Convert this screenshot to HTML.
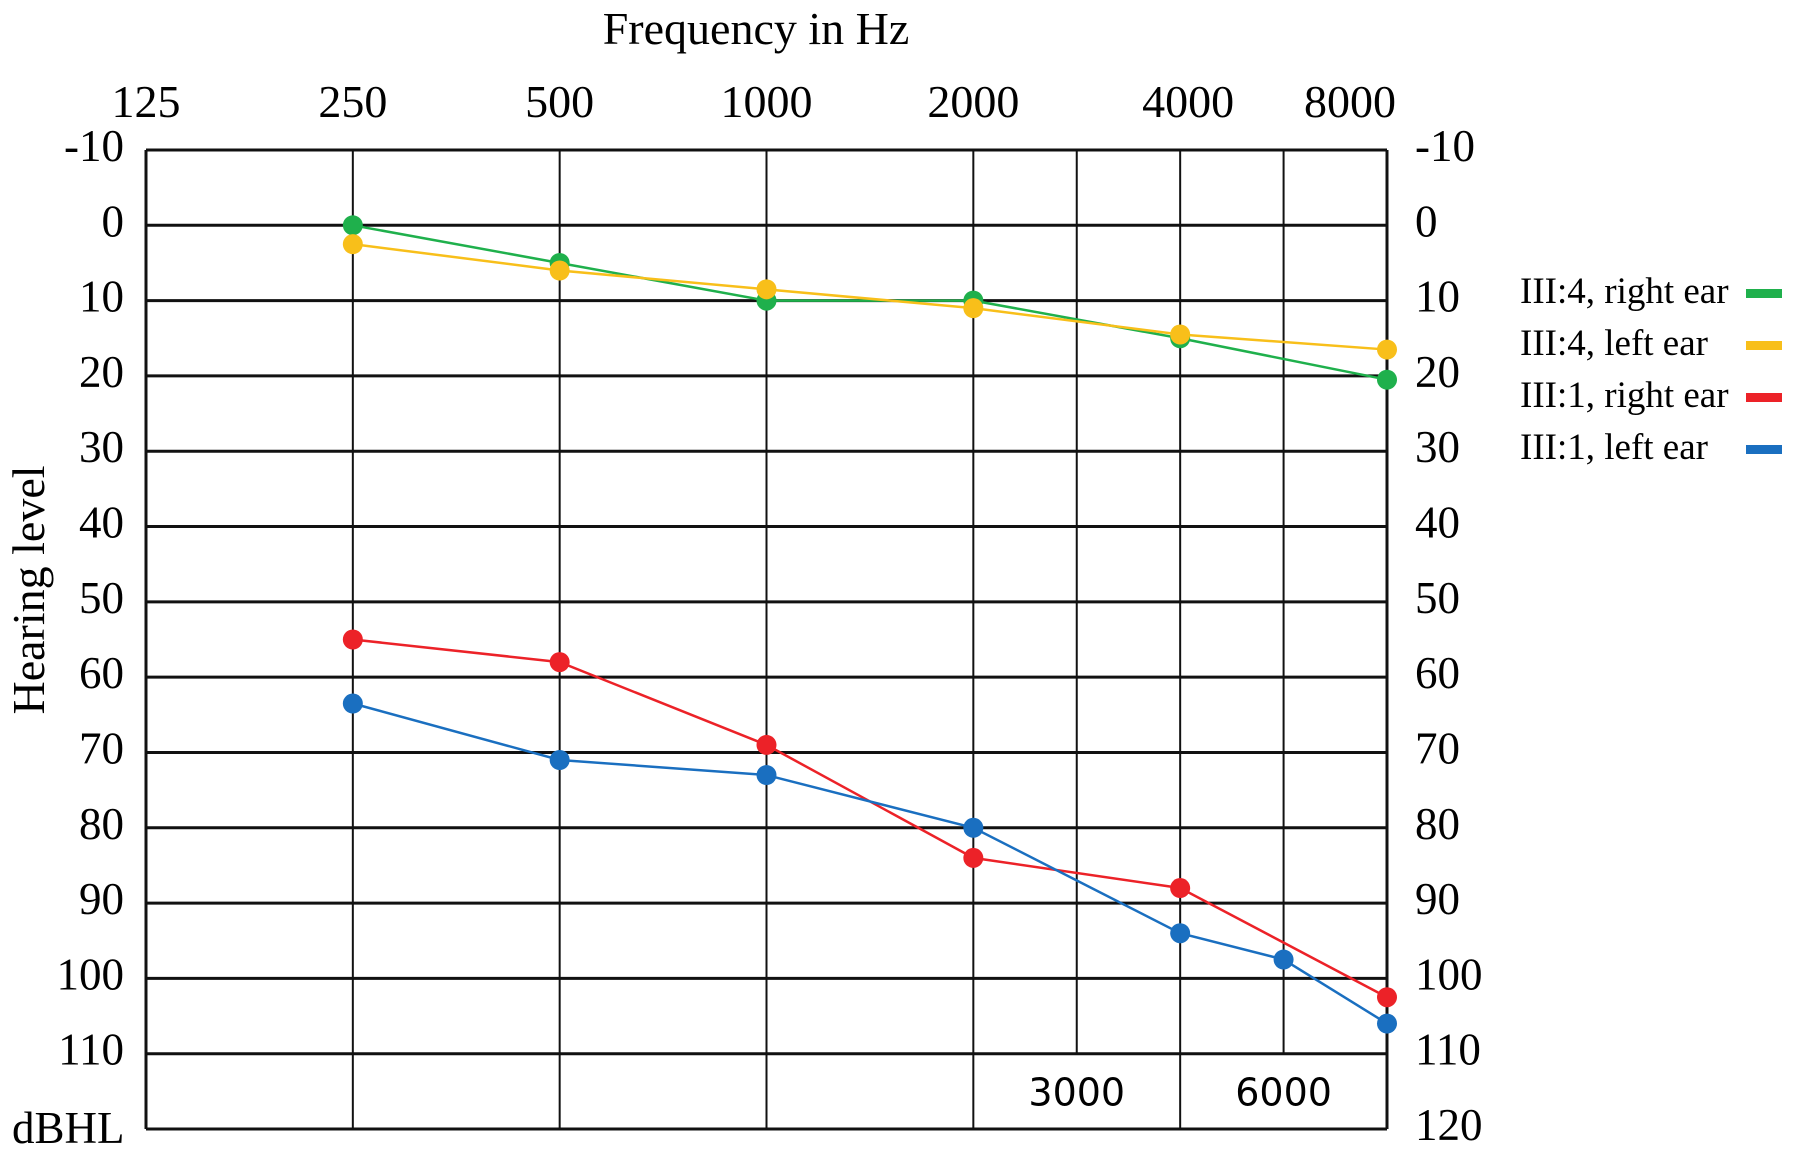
<!DOCTYPE html>
<html><head><meta charset="utf-8"><style>
html,body{margin:0;padding:0;background:#fff;}
svg{display:block;font-family:"Liberation Serif",serif;}
</style></head><body>
<svg id="chart" width="1795" height="1154" viewBox="0 0 1795 1154" xmlns="http://www.w3.org/2000/svg">
<text x="756" y="44" font-size="46" text-anchor="middle">Frequency in Hz</text>
<text transform="translate(44,590) rotate(-90)" font-size="46" text-anchor="middle">Hearing level</text>
<text x="12" y="1143" font-size="45">dBHL</text>
<g id="grid"></g>
<g id="labels"></g>
<g id="series"></g>
<g id="legend"></g>
</svg>
<script>
const freqTicks = [125, 250, 500, 1000, 2000, 4000, 8000];
const midFreqs = [3000, 6000];
const dbTicks = [-10, 0, 10, 20, 30, 40, 50, 60, 70, 80, 90, 100, 110, 120];
const seriesNames = ["III:4, right ear", "III:4, left ear", "III:1, right ear", "III:1, left ear"];
const seriesColors = ["#1fb04c", "#f8bf1a", "#ec2228", "#1a6fc0"];
const freqsA = [250, 500, 1000, 2000, 4000, 8000];
const freqsBlue = [250, 500, 1000, 2000, 4000, 6000, 8000];
const green = [0, 5, 10, 10, 15, 20.5];
const yellow = [2.5, 6, 8.5, 11, 14.5, 16.5];
const red = [55, 58, 69, 84, 88, 102.5];
const blue = [63.5, 71, 73, 80, 94, 97.5, 106];

const NS = "http://www.w3.org/2000/svg";
const L = 146, R = 1387, T = 150, B = 1129;
function xs(f){
  const k = Math.floor(Math.log2(f / 125) + 1e-9);
  const base = 125 * Math.pow(2, k);
  return L + (R - L) * (k + (f / base - 1)) / 6;
}
function ys(d){ return T + (B - T) * (d + 10) / 130; }
function mk(tag, attrs, parent){ const e = document.createElementNS(NS, tag); for (const k in attrs) e.setAttribute(k, attrs[k]); parent.appendChild(e); return e; }

const grid = document.getElementById('grid');
dbTicks.forEach(d => {
  if (d === 120) return;
  const ln = mk('line', {x1: L, x2: R, y1: ys(d), y2: ys(d), stroke: '#111', 'stroke-width': 3}, grid);
  
  
});
const bl = mk('line', {x1: L, x2: R, y1: B, y2: B, stroke: '#111', 'stroke-width': 3}, grid);


freqTicks.forEach(f => {
  const ln = mk('line', {x1: xs(f), x2: xs(f), y1: T, y2: B, stroke: '#111', 'stroke-width': f === 125 || f === 8000 ? 3 : 2}, grid);
  
  
});
midFreqs.forEach(f => {
  const ln = mk('line', {x1: xs(f), x2: xs(f), y1: T, y2: ys(110), stroke: '#111', 'stroke-width': 2}, grid);
  
  
});

const labels = document.getElementById('labels');
freqTicks.forEach(f => {
  const x = f === 8000 ? xs(f) - 37 : (f === 4000 ? xs(f) + 8 : xs(f));
  const t = mk('text', {x: x, y: 117, 'font-size': 46, 'text-anchor': 'middle'}, labels);
  t.textContent = f;
  
  
});
midFreqs.forEach(f => {
  const t = mk('text', {x: xs(f), y: ys(115) + 14, 'font-size': 38, 'text-anchor': 'middle', 'font-family': '"DejaVu Sans", sans-serif'}, labels);
  t.textContent = f;
  
  
});
dbTicks.forEach(d => {
  if (d !== 120) {
    const t = mk('text', {x: 124, y: ys(d) + 11, 'font-size': 45, 'text-anchor': 'end'}, labels);
    t.textContent = d;
    
    
  }
  const t2 = mk('text', {x: 1415, y: ys(d) + 11, 'font-size': 45}, labels);
  t2.textContent = d;
  
  
});

const series = document.getElementById('series');
const sets = [[freqsA, green], [freqsA, yellow], [freqsA, red], [freqsBlue, blue]];
sets.forEach((s, i) => {
  const fr = s[0], vals = s[1];
  const pts = vals.map((v, j) => xs(fr[j]) + ',' + ys(v)).join(' ');
  const pl = mk('polyline', {points: pts, fill: 'none', stroke: seriesColors[i], 'stroke-width': 2.5}, series);
  
  
  vals.forEach((v, j) => {
    const c = mk('circle', {cx: xs(fr[j]), cy: ys(v), r: 10, fill: seriesColors[i]}, series);
    
    
  });
});

const legend = document.getElementById('legend');
seriesNames.forEach((n, i) => {
  const y = 292 + i * 52;
  const t = mk('text', {x: 1520, y: y + 11, 'font-size': 37}, legend);
  t.textContent = n;
  
  
  const r = mk('rect', {x: 1746, y: y - 3, width: 36, height: 9, fill: seriesColors[i]}, legend);
  
  
});
</script>
</body></html>
